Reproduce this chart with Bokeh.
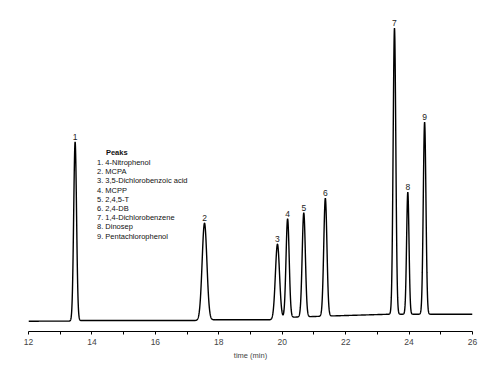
import numpy as np
from bokeh.plotting import figure
from bokeh.models import Range1d, FixedTicker, ColumnDataSource, Label
from bokeh.core.properties import value
from bokeh.embed import file_html
from bokeh.resources import INLINE

# ---- data ----
peak_ids = ["1", "2", "3", "4", "5", "6", "7", "8", "9"]
retention_min = [13.47, 17.55, 19.85, 20.17, 20.68, 21.36, 23.54, 23.96, 24.49]
peak_height = [179, 97, 75, 99, 104, 118, 286, 122, 192]
peak_sigma = [0.045, 0.075, 0.065, 0.05, 0.05, 0.05, 0.042, 0.038, 0.042]
baseline_t = [12.0, 13.3, 13.7, 17.3, 17.8, 19.7, 20.3, 21.5, 23.4, 26.0]
baseline_v = [10.3, 10.4, 11.0, 11.0, 11.7, 11.7, 14.3, 15.5, 17.3, 17.3]
compounds = ["4-Nitrophenol", "MCPA", "3,5-Dichlorobenzoic acid", "MCPP",
             "2,4,5-T", "2,4-DB", "1,4-Dichlorobenzene", "Dinosep",
             "Pentachlorophenol"]
major_ticks = [12, 14, 16, 18, 20, 22, 24, 26]
minor_ticks = [13, 15, 17, 19, 21, 23, 25]

FONT = "Liberation Sans Narrow, Arial Narrow, Liberation Sans"

t = np.linspace(12, 26, 4201)
signal = np.interp(t, baseline_t, baseline_v)
for rt, h, s in zip(retention_min, peak_height, peak_sigma):
    signal = signal + h * np.exp(-0.5 * ((t - rt) / s) ** 2)

tops = [np.interp(rt, t, signal) for rt in retention_min]

p = figure(width=500, height=377, output_backend="svg", toolbar_location=None,
           x_range=Range1d(12, 26), y_range=Range1d(0, 331),
           y_axis_type=None, min_border_left=28, min_border_right=28,
           min_border_top=0, min_border_bottom=46)
p.grid.visible = False
p.outline_line_color = None
p.background_fill_color = "white"
p.border_fill_color = "white"

p.line(t, signal, line_color="black", line_width=1.4)

src = ColumnDataSource(dict(x=retention_min, y=tops, txt=peak_ids))
p.text(x="x", y="y", text="txt", source=src, text_align="center",
       text_baseline="bottom", y_offset=-2, text_font=value(FONT),
       text_font_size="8.5px", text_color="#222222")

# legend block
leg_x = 14.16
p.add_layout(Label(x=leg_x + 0.28, y=178.7, text="Peaks", text_font=FONT,
                   text_font_style="bold", text_font_size="7.5px",
                   text_baseline="middle", text_color="#111111"))
for i, name in enumerate(compounds):
    p.add_layout(Label(x=leg_x, y=169 - 9.2 * i, text=f"{i+1}. {name}",
                       text_font=FONT, text_font_size="7.5px",
                       text_baseline="middle", text_color="#111111"))

ax = p.xaxis[0]
ax.ticker = FixedTicker(ticks=major_ticks, minor_ticks=minor_ticks)
ax.axis_label = "time (min)"
ax.axis_label_text_font = FONT
ax.axis_label_text_font_size = "7.5px"
ax.axis_label_text_font_style = "normal"
ax.axis_label_standoff = 3
ax.major_label_text_font = FONT
ax.major_label_text_font_size = "8.5px"
ax.major_label_standoff = 4
ax.axis_line_color = "black"
ax.major_tick_line_color = "black"
ax.minor_tick_line_color = "black"
ax.major_tick_out = 3
ax.major_tick_in = 0
ax.minor_tick_out = 3
ax.minor_tick_in = 0

open("out.html", "w").write(file_html(p, INLINE))
